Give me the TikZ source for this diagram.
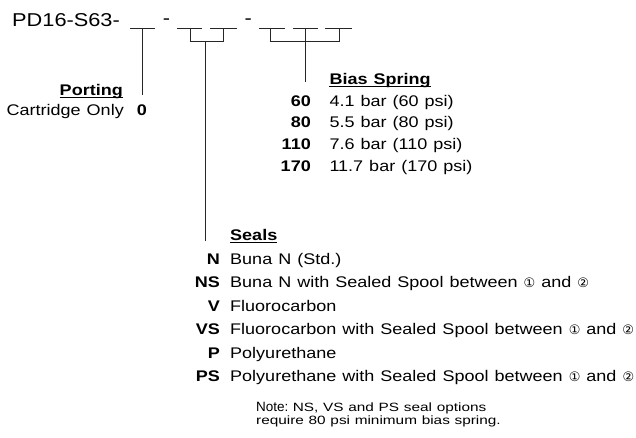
\documentclass[tikz,border=0pt]{standalone}
\usepackage{fontspec}
\setmainfont{Liberation Sans}[FakeStretch=1.17,WordSpace=1.2]
\newfontfamily\notefont{Liberation Sans}[FakeStretch=1.28,WordSpace=1.1]
\newfontfamily\plainfont{Liberation Sans}
\newfontfamily\circfont{DejaVu Sans}
\newcommand\cone{{\circfont\fontsize{13}{13}\selectfont ①}}
\newcommand\ctwo{{\circfont\fontsize{13}{13}\selectfont ②}}
\begin{document}
\begin{tikzpicture}[x=1pt,y=-1pt,
  txt/.style={inner sep=0pt, font=\fontsize{15.4}{18}\selectfont},
  lab/.style={inner sep=0pt, font=\fontsize{15.4}{18}\selectfont\bfseries, anchor=base east},
  desc/.style={txt, anchor=base west},
  head/.style={inner sep=0pt, font=\fontsize{15.4}{18}\selectfont\bfseries},
  titl/.style={inner sep=0pt, font=\fontsize{18.6}{20}\selectfont, anchor=base west},
  notestyle/.style={inner sep=0pt, anchor=base west, font=\notefont\fontsize{12}{14}\selectfont},
  leader/.style={line width=1pt, draw=black!85},
  uline/.style={line width=1pt}]
\useasboundingbox (0,0) rectangle (636,437);
% title and dashes
\node[titl] (title) at (12,26.7) {PD16-S63-};
\node[titl, anchor=base] (dash1) at (166.5,24) {-};
\node[titl, anchor=base] (dash2) at (248.3,24) {-};
% blanks
\coordinate (a1) at (130,28.3); \coordinate (a2) at (155,28.3);
\coordinate (b1) at (177,28.3); \coordinate (b2) at (202,28.3);
\coordinate (b3) at (210,28.3); \coordinate (b4) at (237,28.3);
\coordinate (c1) at (259,28.3); \coordinate (c2) at (285,28.3);
\coordinate (c3) at (293,28.3); \coordinate (c4) at (318,28.3);
\coordinate (c5) at (325,28.3); \coordinate (c6) at (352,28.3);
\draw[leader] (a1) -- (a2);
\draw[leader] (b1) -- (b2); \draw[leader] (b3) -- (b4);
\draw[leader] (c1) -- (c2); \draw[leader] (c3) -- (c4); \draw[leader] (c5) -- (c6);
% junction points
\coordinate (pa) at (142.3,28.3); \coordinate (pend) at (142.3,95);
\coordinate (sb1) at (190,28.3); \coordinate (sb2) at (223.3,28.3);
\coordinate (jb1) at (190,41.7); \coordinate (jb2) at (223.3,41.7);
\coordinate (jb) at (205.7,41.7); \coordinate (send) at (205.7,240.5);
\coordinate (sc1) at (270,28.3); \coordinate (sc3) at (339.3,28.3);
\coordinate (jc1) at (270,41.7); \coordinate (jc3) at (339.3,41.7);
\coordinate (sc2) at (305,28.3); \coordinate (bend) at (305,82);
\draw[leader] (pa) -- (pend);
\draw[leader] (sb1) -- (jb1) -- (jb2) -- (sb2);
\draw[leader] (jb) -- (send);
\draw[leader] (sc1) -- (jc1) -- (jc3) -- (sc3);
\draw[leader] (sc2) -- (bend);
% Porting
\node[head, anchor=base east] (porting) at (123,95.5) {Porting};
\draw[uline] ([yshift=-2pt]porting.base west) -- ([yshift=-2pt]porting.base east);
\node[txt, anchor=base east] (cart) at (124,115.7) {Cartridge Only};
\node[lab, anchor=base west] (p0) at (136.7,115.7) {0};
% Bias spring
\node[head, anchor=base west] (bias) at (329.3,84) {Bias Spring};
\draw[uline] ([yshift=-2pt]bias.base west) -- ([yshift=-2pt]bias.base east);
\node[lab] (k60) at (311,106) {60};
\node[desc] (d60) at (329.3,106) {4.1 bar (60 psi)};
\node[lab] (k80) at (311,127.7) {80};
\node[desc] (d80) at (329.3,127.7) {5.5 bar (80 psi)};
\node[lab] (k110) at (311,149.4) {110};
\node[desc] (d110) at (329.3,149.4) {7.6 bar (110 psi)};
\node[lab] (k170) at (311,171.1) {170};
\node[desc] (d170) at (329.3,171.1) {11.7 bar (170 psi)};
% Seals
\node[head, anchor=base west] (seals) at (230,240.5) {Seals};
\draw[uline] ([yshift=-2pt]seals.base west) -- ([yshift=-2pt]seals.base east);
\node[lab] (kN) at (220,264.5) {N};
\node[desc] (dN) at (230,264.5) {Buna N (Std.)};
\node[lab] (kNS) at (220,287.9) {NS};
\node[desc] (dNS) at (230,287.9) {Buna N with Sealed Spool between \cone\ and \ctwo};
\node[lab] (kV) at (220,311.3) {V};
\node[desc] (dV) at (230,311.3) {Fluorocarbon};
\node[lab] (kVS) at (220,334.7) {VS};
\node[desc] (dVS) at (230,334.7) {Fluorocarbon with Sealed Spool between \cone\ and \ctwo};
\node[lab] (kP) at (220,358.1) {P};
\node[desc] (dP) at (230,358.1) {Polyurethane};
\node[lab] (kPS) at (220,381.5) {PS};
\node[desc] (dPS) at (230,381.5) {Polyurethane with Sealed Spool between \cone\ and \ctwo};
% Note
\node[inner sep=0pt, anchor=base west, font=\plainfont\fontsize{13.5}{16}\selectfont] (note) at (256,411) {Note:};
\node[notestyle] (note1) at (292.7,411) {NS, VS and PS seal options};
\node[notestyle] (note2) at (256,424) {require 80 psi minimum bias spring.};
\end{tikzpicture}
\end{document}
